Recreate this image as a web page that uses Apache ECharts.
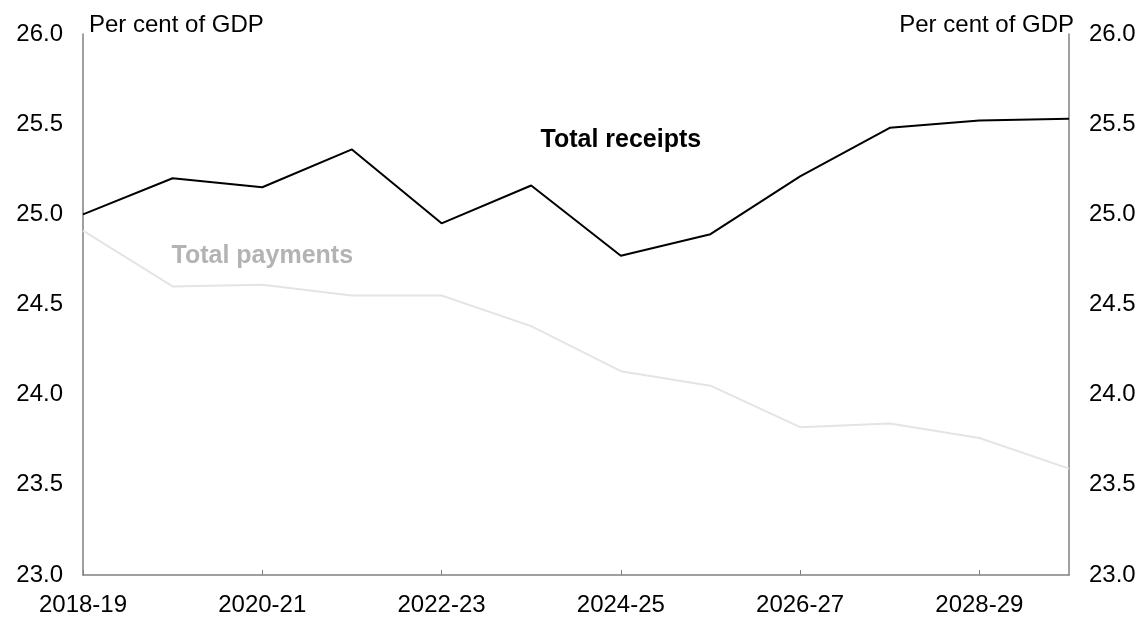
<!DOCTYPE html>
<html><head><meta charset="utf-8">
<script src="https://cdn.jsdelivr.net/npm/echarts@6/dist/echarts.min.js"></script>
<style>html,body{margin:0;padding:0;background:#fff}#c{width:1146px;height:619px}</style>
</head><body><div id="c"></div>
<script>
const categories = ['2018-19','2019-20','2020-21','2021-22','2022-23','2023-24','2024-25','2025-26','2026-27','2027-28','2028-29','2029-30'];
const totalReceipts = [25.0, 25.2, 25.15, 25.36, 24.95, 25.16, 24.77, 24.89, 25.21, 25.48, 25.52, 25.53];
const totalPayments = [24.91, 24.6, 24.61, 24.55, 24.55, 24.38, 24.13, 24.05, 23.82, 23.84, 23.76, 23.59];
const yUnit = 'Per cent of GDP';

const chart = echarts.init(document.getElementById('c'));
const font = 'Liberation Sans, Arial, sans-serif';
const yAxisBase = {
  type: 'value', min: 23, max: 26, interval: 0.5,
  axisLine: {show: true, lineStyle: {color: '#808080', width: 1.5}},
  axisTick: {show: false},
  splitLine: {show: false},
  axisLabel: {color: '#000', fontSize: 24, fontFamily: font, margin: 20, formatter: v => v.toFixed(1)}
};
chart.setOption({
  animation: false,
  grid: {left: 83, right: 77, top: 34, bottom: 44},
  xAxis: {
    type: 'category', data: categories, boundaryGap: false,
    axisLine: {lineStyle: {color: '#808080', width: 1.5}},
    axisTick: {show: true, inside: true, length: 5, interval: 1, lineStyle: {color: '#808080'}},
    axisLabel: {color: '#000', fontSize: 24, fontFamily: font, margin: 18, interval: 1}
  },
  yAxis: [
    Object.assign({}, yAxisBase, {position: 'left'}),
    Object.assign({}, yAxisBase, {position: 'right'})
  ],
  graphic: [
    {type: 'text', left: 89, top: 13, style: {text: yUnit, fontSize: 24, fontFamily: font, fill: '#000'}},
    {type: 'text', right: 72, top: 13, style: {text: yUnit, fontSize: 24, fontFamily: font, fill: '#000'}}
  ],
  series: [
    {
      name: 'Total payments', type: 'line', data: totalPayments, symbol: 'none',
      lineStyle: {color: '#e4e4e4', width: 2},
      markPoint: {symbol: 'circle', symbolSize: 0, data: [{coord: [2.12, 24.77]}],
        label: {show: true, formatter: 'Total payments', color: '#b3b3b3', fontWeight: 'bold', fontSize: 25, fontFamily: font, position: 'inside'}}
    },
    {
      name: 'Total receipts', type: 'line', data: totalReceipts, symbol: 'none',
      lineStyle: {color: '#000', width: 2},
      markPoint: {symbol: 'circle', symbolSize: 0, data: [{coord: [5.94, 25.41]}],
        label: {show: true, formatter: 'Total receipts', color: '#000', fontWeight: 'bold', fontSize: 25, fontFamily: font, position: 'inside'}}
    }
  ]
});
</script></body></html>
